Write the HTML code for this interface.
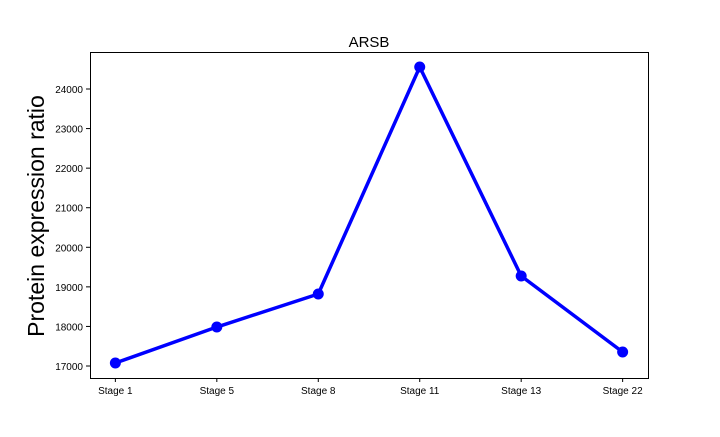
<!DOCTYPE html>
<html><head><meta charset="utf-8"><style>
body{margin:0;background:#fff;}
svg text{font-family:"Liberation Sans","DejaVu Sans",sans-serif;}
</style></head><body>
<svg id="chart" width="720" height="432" xmlns="http://www.w3.org/2000/svg">
<rect x="0" y="0" width="720" height="432" fill="#fff"/>
<text x="369" y="47" font-size="15" text-anchor="middle">ARSB</text>
<text transform="translate(44,216) rotate(-90)" font-size="23" text-anchor="middle">Protein expression ratio</text>
<g id="ticks"></g>
<g id="marks"></g>
<rect x="90.5" y="52.5" width="558" height="326" fill="none" stroke="#000" stroke-width="1"/>
</svg>
<script>
const categories=["Stage 1","Stage 5","Stage 8","Stage 11","Stage 13","Stage 22"];
const values=[17076,17985,18820,24556,19275,17354];
const yTicks=[17000,18000,19000,20000,21000,22000,23000,24000];
const L=90,R=648,T=52,B=378;
const yMin=16697,yMax=24935;
const x=i=>L+(i+0.25)*(R-L)/(categories.length-0.5);
const y=v=>B-(v-yMin)/(yMax-yMin)*(B-T);
const NS="http://www.w3.org/2000/svg";
const tg=document.getElementById('ticks'),mg=document.getElementById('marks');
function mk(tag,attrs,parent){const e=document.createElementNS(NS,tag);for(const k in attrs)e.setAttribute(k,attrs[k]);parent.appendChild(e);return e;}
yTicks.forEach(t=>{
 const yy=y(t);
 const ln=mk('line',{x1:L-4,x2:L,y1:yy,y2:yy,stroke:'#000'},tg);
 
 
 const tx=mk('text',{x:L-7,y:yy+4,'font-size':10,'text-anchor':'end'},tg);
 tx.textContent=t;
 
 
});
categories.forEach((c,i)=>{
 const xx=x(i);
 const ln=mk('line',{x1:xx,x2:xx,y1:B,y2:B+4,stroke:'#000'},tg);
 
 
 const tx=mk('text',{x:xx,y:B+16,'font-size':10,'text-anchor':'middle'},tg);
 tx.textContent=c;
 
 
});
const pts=values.map((v,i)=>x(i)+','+y(v)).join(' ');
const pl=mk('polyline',{points:pts,fill:'none',stroke:'#0000ff','stroke-width':3.5,'stroke-linejoin':'round'},mg);


values.forEach((v,i)=>{
 const c=mk('circle',{cx:x(i),cy:y(v),r:5.5,fill:'#0000ff'},mg);
 
 
});
</script>
</body></html>
